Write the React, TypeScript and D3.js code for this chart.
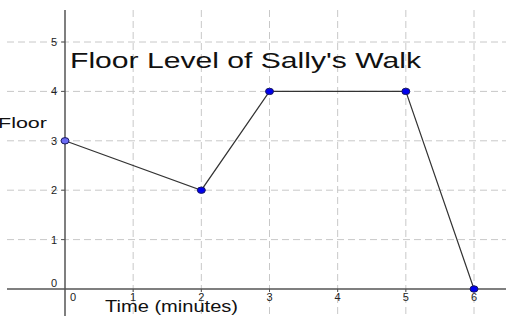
import * as d3 from "d3";
import React, { useEffect, useRef } from "react";

// time in minutes and floor level of each point
const times = [0, 2, 3, 5, 6];
const floors = [3, 2, 4, 4, 0];
const xTicks = [0, 1, 2, 3, 4, 5, 6];
const yTicks = [0, 1, 2, 3, 4, 5];
const title = "Floor Level of Sally's Walk";

const W = 506,
	H = 316;

const App = (): JSX.Element => {
	const svgRef = useRef<SVGSVGElement>(null);

	useEffect(() => {
		const svg = d3.select(svgRef.current).append("g");

		const x = d3.scaleLinear().domain([0, 6]).range([65, 474]);
		const y = d3.scaleLinear().domain([0, 5]).range([289, 42]);
		const left = 7,
			top = 10;
		const font = "Liberation Sans, Arial, sans-serif";

		// dashed grid
		svg.append("g")
			.selectAll("line")
			.data(xTicks.filter((d) => d > 0))
			.join("line")
			.attr("x1", (d) => x(d))
			.attr("x2", (d) => x(d))
			.attr("y1", top)
			.attr("y2", H)
			.attr("stroke", "#c8c8c8")
			.attr("stroke-dasharray", "7,4");
		svg.append("g")
			.selectAll("line")
			.data(yTicks.filter((d) => d > 0))
			.join("line")
			.attr("x1", left)
			.attr("x2", W)
			.attr("y1", (d) => y(d))
			.attr("y2", (d) => y(d))
			.attr("stroke", "#c8c8c8")
			.attr("stroke-dasharray", "7,4");

		// axes
		svg.append("line")
			.attr("x1", left)
			.attr("x2", W)
			.attr("y1", y(0))
			.attr("y2", y(0))
			.attr("stroke", "#555")
			.attr("stroke-width", 1.5);
		svg.append("line")
			.attr("x1", x(0))
			.attr("x2", x(0))
			.attr("y1", top)
			.attr("y2", H)
			.attr("stroke", "#555")
			.attr("stroke-width", 1.5);

		// tick marks + labels
		svg.append("g")
			.selectAll("line")
			.data(xTicks.filter((d) => d > 0))
			.join("line")
			.attr("x1", (d) => x(d))
			.attr("x2", (d) => x(d))
			.attr("y1", y(0))
			.attr("y2", y(0) + 3)
			.attr("stroke", "#555");
		svg.append("g")
			.selectAll("line")
			.data(yTicks.filter((d) => d > 0))
			.join("line")
			.attr("x1", x(0) - 4)
			.attr("x2", x(0))
			.attr("y1", (d) => y(d))
			.attr("y2", (d) => y(d))
			.attr("stroke", "#555");

		svg.append("g")
			.selectAll("text")
			.data(xTicks)
			.join("text")
			.attr("x", (d) => (d === 0 ? x(d) + 8 : x(d)))
			.attr("y", y(0) + 12)
			.attr("text-anchor", "middle")
			.attr("font-family", font)
			.attr("font-size", 11)
			.attr("fill", "#222")
			.text((d) => d);
		svg.append("g")
			.selectAll("text")
			.data(yTicks)
			.join("text")
			.attr("x", x(0) - 8)
			.attr("y", (d) => (d === 0 ? y(d) - 2 : y(d) + 4))
			.attr("text-anchor", "end")
			.attr("font-family", font)
			.attr("font-size", 11)
			.attr("fill", "#222")
			.text((d) => d);

		// the walk
		const pts = times.map((t, i) => [t, floors[i]] as [number, number]);
		svg.append("path")
			.datum(pts)
			.attr("fill", "none")
			.attr("stroke", "#333")
			.attr("stroke-width", 1.2)
			.attr(
				"d",
				d3
					.line<[number, number]>()
					.x((d) => x(d[0]))
					.y((d) => y(d[1]))
			);
		svg.append("g")
			.selectAll("ellipse")
			.data(pts)
			.join("ellipse")
			.attr("cx", (d) => x(d[0]))
			.attr("cy", (d) => y(d[1]))
			.attr("rx", 4)
			.attr("ry", 3.2)
			.attr("fill", (d, i) => (i === 0 ? "#6b6bf5" : "#0000ee"))
			.attr("stroke", "#1a1a60")
			.attr("stroke-width", 1);

		// titles
		svg.append("text")
			.attr("x", 70)
			.attr("y", 68)
			.attr("font-family", font)
			.attr("font-size", 22)
			.attr("textLength", 351)
			.attr("lengthAdjust", "spacingAndGlyphs")
			.attr("fill", "#111")
			.text(title);
		svg.append("text")
			.attr("x", -2)
			.attr("y", 128)
			.attr("font-family", font)
			.attr("font-size", 15)
			.attr("textLength", 49)
			.attr("lengthAdjust", "spacingAndGlyphs")
			.attr("fill", "#111")
			.text("Floor");
		svg.append("text")
			.attr("x", 105)
			.attr("y", 312)
			.attr("font-family", font)
			.attr("font-size", 16)
			.attr("textLength", 133)
			.attr("lengthAdjust", "spacingAndGlyphs")
			.attr("fill", "#111")
			.text("Time (minutes)");

		return () => {
			svg.remove();
		};
	}, []);

	return (
		<svg
			ref={svgRef}
			width={W}
			height={H}
			style={{ position: "absolute", left: 0, top: 0, background: "#fff" }}
		/>
	);
};

export default App;
